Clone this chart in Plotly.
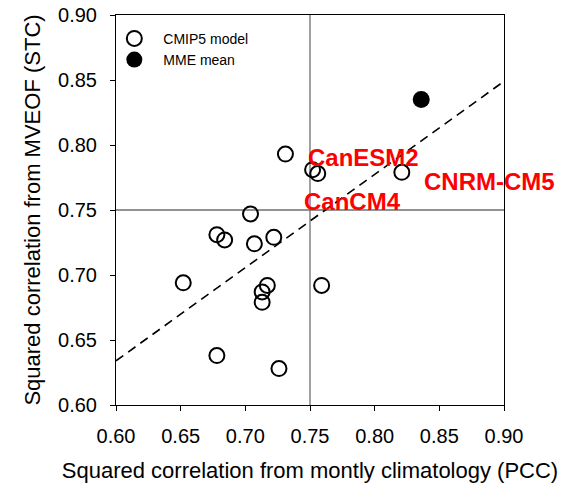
import plotly.graph_objects as go

# CMIP5 models (PCC, STC)
cmip_x = [0.731, 0.752, 0.756, 0.821, 0.704, 0.678, 0.684, 0.707, 0.722,
          0.652, 0.717, 0.713, 0.713, 0.759, 0.678, 0.726]
cmip_y = [0.793, 0.781, 0.778, 0.779, 0.747, 0.731, 0.727, 0.724, 0.729,
          0.694, 0.692, 0.687, 0.679, 0.692, 0.638, 0.628]
# Multi-model ensemble mean
mme_x = [0.836]
mme_y = [0.835]
# Regression line endpoints
fit_x = [0.60, 0.90]
fit_y = [0.634, 0.849]
# Reference value
ref_val = 0.75
# Labelled models
label_names = ["CanESM2", "CNRM-CM5", "CanCM4"]
label_x = [0.7466, 0.8366, 0.7439]
label_y = [0.7907, 0.7717, 0.7563]

tick_vals = [0.60, 0.65, 0.70, 0.75, 0.80, 0.85, 0.90]
tick_text = ["0.60", "0.65", "0.70", "0.75", "0.80", "0.85", "0.90"]

FONT = "Arial, Liberation Sans, sans-serif"

fig = go.Figure()

# reference lines
fig.add_trace(go.Scatter(x=[ref_val, ref_val], y=[0.60, 0.90], mode="lines",
                         line=dict(color="#6e6e6e", width=1.3),
                         showlegend=False, hoverinfo="skip"))
fig.add_trace(go.Scatter(x=[0.60, 0.90], y=[ref_val, ref_val], mode="lines",
                         line=dict(color="#6e6e6e", width=1.3),
                         showlegend=False, hoverinfo="skip"))
# regression line
fig.add_trace(go.Scatter(x=fit_x, y=fit_y, mode="lines",
                         line=dict(color="black", width=1.6, dash="9px,6px"),
                         showlegend=False, hoverinfo="skip"))

fig.add_trace(go.Scatter(x=cmip_x, y=cmip_y, mode="markers", name="CMIP5 model",
                         marker=dict(symbol="circle-open", size=15,
                                     color="black", line=dict(width=2, color="black"))))
fig.add_trace(go.Scatter(x=mme_x, y=mme_y, mode="markers", name="MME mean",
                         marker=dict(symbol="circle", size=17, color="black",
                                     line=dict(width=0))))

for name, lx, ly in zip(label_names, label_x, label_y):
    fig.add_annotation(x=lx, y=ly, text=name, showarrow=False,
                       xanchor="left", yanchor="middle",
                       font=dict(family=FONT, size=24, color="#ff0000", weight="bold"))

axis_common = dict(
    range=[0.60, 0.90], tickvals=tick_vals, ticktext=tick_text,
    showgrid=False, zeroline=False, automargin=False,
    showline=True, linecolor="black", linewidth=1, mirror=True,
    ticks="outside", ticklen=5, tickcolor="black", tickwidth=1,
    tickfont=dict(family=FONT, size=20, color="black"),
)

fig.update_xaxes(**axis_common,
                 title=dict(text="Squared correlation from montly climatology (PCC)",
                            font=dict(family=FONT, size=22, color="black"), standoff=17),
                 ticklabelstandoff=8)
fig.update_yaxes(**axis_common,
                 title=dict(text="Squared correlation from MVEOF (STC)",
                            font=dict(family=FONT, size=22, color="black"), standoff=11),
                 ticklabelstandoff=9)

fig.update_layout(
    width=569, height=483,
    margin=dict(l=116, r=65, t=15, b=78),
    plot_bgcolor="white", paper_bgcolor="white",
    font=dict(family=FONT, color="black"),
    legend=dict(x=-0.0275, y=0.98, xanchor="left", yanchor="top",
                bgcolor="rgba(0,0,0,0)", font=dict(family=FONT, size=14, color="black"),
                itemwidth=48, tracegroupgap=0),
)

fig.write_html("out.html", config={"displayModeBar": False},
               post_script="document.body.style.margin='0px';document.body.style.overflow='hidden';")
